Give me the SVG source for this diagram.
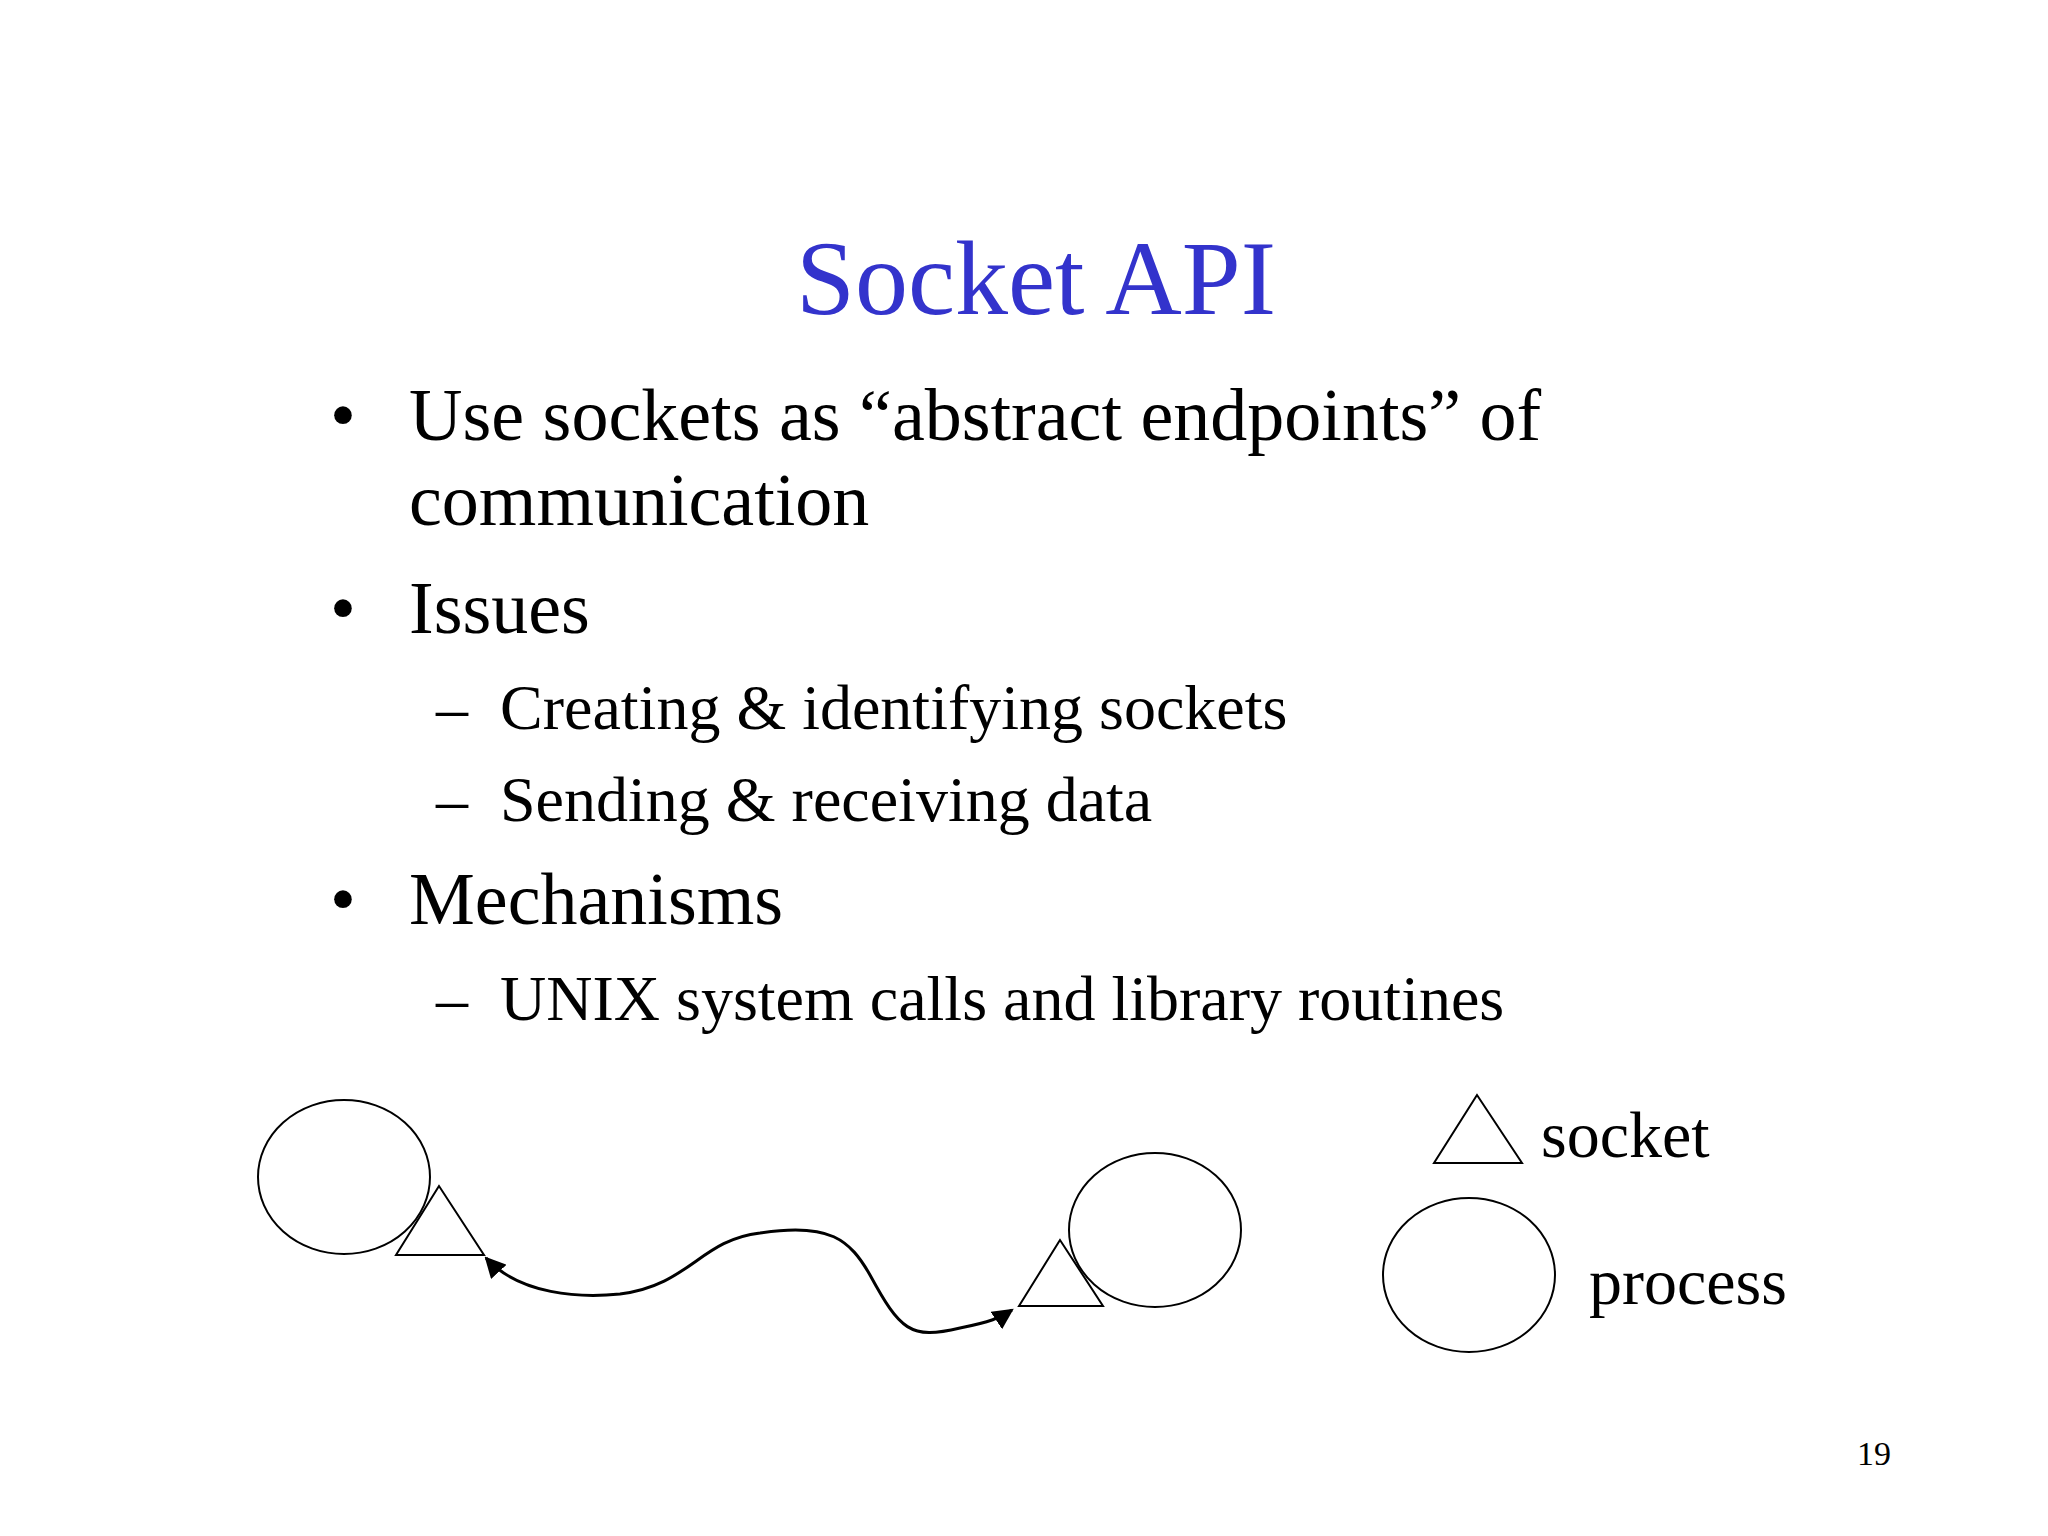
<svg xmlns="http://www.w3.org/2000/svg" width="2048" height="1536" viewBox="0 0 2048 1536">
<style>
text{font-family:"Liberation Serif","Times New Roman",serif;fill:#000}
.b{font-size:74px}.s{font-size:64px}
.sh{fill:none;stroke:#000;stroke-width:2}
</style>
<defs><marker id="ah" viewBox="0 0 10 10" refX="9" refY="5" markerWidth="7" markerHeight="7" orient="auto-start-reverse"><path d="M0,0L10,5L0,10z" fill="#000"/></marker></defs>
<rect width="2048" height="1536" fill="#fff"/>
<text x="1036" y="314" text-anchor="middle" style="font-size:106px;fill:#3333cc">Socket API</text>
<text x="330" y="440" class="b">•</text><text x="409" y="440" class="b">Use sockets as “abstract endpoints” of</text>
<text x="409" y="525" class="b">communication</text>
<text x="330" y="633" class="b">•</text><text x="409" y="633" class="b">Issues</text>
<text x="436" y="729" class="s">–</text><text x="500" y="729" class="s">Creating &amp; identifying sockets</text>
<text x="436" y="821" class="s">–</text><text x="500" y="821" class="s">Sending &amp; receiving data</text>
<text x="330" y="924" class="b">•</text><text x="409" y="924" class="b">Mechanisms</text>
<text x="436" y="1020" class="s">–</text><text x="500" y="1020" class="s">UNIX system calls and library routines</text>
<g id="process1"><ellipse class="sh" cx="344" cy="1177" rx="86" ry="77"/></g>
<g id="socket1"><polygon class="sh" points="439,1186 396,1255 484,1255"/></g>
<g id="process2"><ellipse class="sh" cx="1155" cy="1230" rx="86" ry="77"/></g>
<g id="socket2"><polygon class="sh" points="1060,1240 1019,1306 1103,1306"/></g>
<g id="connectors"><path d="M486,1258 C520,1295 580,1298 620,1294 C690,1285 700,1240 760,1233 C830,1222 850,1240 870,1275 C900,1330 910,1340 960,1328 C990,1322 1000,1318 1012,1310" fill="none" stroke="#000" stroke-width="3" marker-start="url(#ah)" marker-end="url(#ah)"/></g>
<g id="legend-socket"><polygon class="sh" points="1477,1095 1434,1163 1522,1163"/><text x="1541" y="1157" style="font-size:66px">socket</text></g>
<g id="legend-process"><ellipse class="sh" cx="1469" cy="1275" rx="86" ry="77"/><text x="1589" y="1304" style="font-size:66px">process</text></g>
<text x="1874" y="1465" text-anchor="middle" style="font-size:34px">19</text>
</svg>
